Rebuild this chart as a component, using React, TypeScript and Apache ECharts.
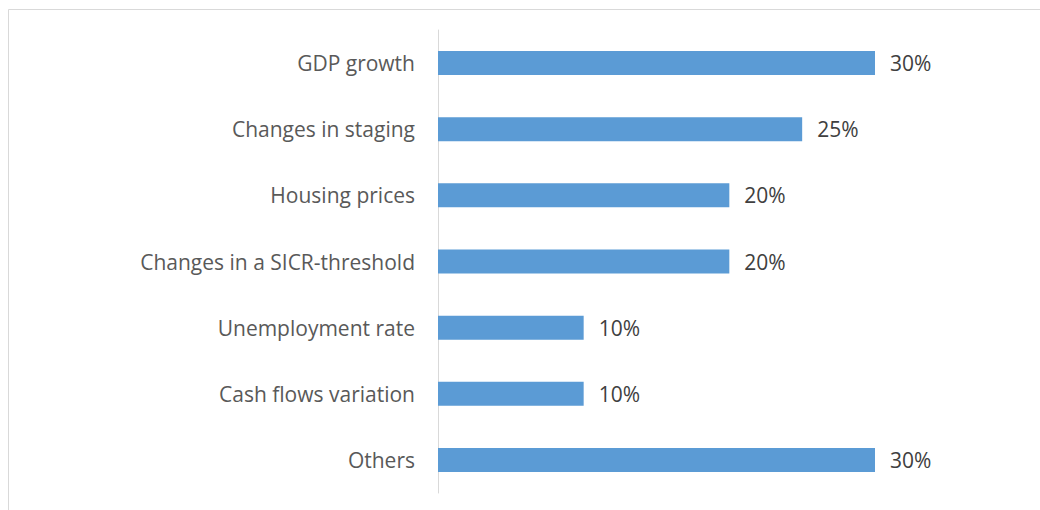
import React, { useEffect, useRef } from "react";
import * as echarts from "echarts";

const categories = [
  "GDP growth",
  "Changes in staging",
  "Housing prices",
  "Changes in a SICR-threshold",
  "Unemployment rate",
  "Cash flows variation",
  "Others",
];
const values = [30, 25, 20, 20, 10, 10, 30];

export default function App() {
  const ref = useRef<HTMLDivElement>(null);
  useEffect(() => {
    document.body.style.margin = "0";
    const chart = echarts.init(ref.current!, null, { renderer: "svg" });
    chart.setOption({
      animation: false,
      backgroundColor: "#ffffff",
      grid: { left: 438, top: 30, bottom: 17, width: 582.67 },
      xAxis: {
        type: "value",
        min: 0,
        max: 40,
        show: false,
        splitLine: { show: false },
      },
      yAxis: {
        type: "category",
        data: categories,
        inverse: true,
        axisLine: { show: true, lineStyle: { color: "#d9d9d9", width: 1 } },
        axisTick: { show: false },
        axisLabel: {
          color: "#595959",
          fontFamily: "Open Sans",
          fontSize: 21,
          margin: 23,
        },
      },
      series: [
        {
          type: "bar",
          data: values,
          barWidth: 24,
          itemStyle: { color: "#5B9BD5" },
          label: {
            show: true,
            position: "right",
            distance: 15,
            formatter: "{c}%",
            color: "#404040",
            fontFamily: "Open Sans",
            fontSize: 21,
          },
        },
      ],
      graphic: [
        {
          type: "rect",
          shape: { x: 8.5, y: 9.5, width: 1100, height: 600 },
          style: { fill: "none", stroke: "#d9d9d9", lineWidth: 1 },
          silent: true,
        },
      ],
    });
    return () => chart.dispose();
  }, []);
  return <div ref={ref} style={{ width: 1040, height: 510 }} />;
}
